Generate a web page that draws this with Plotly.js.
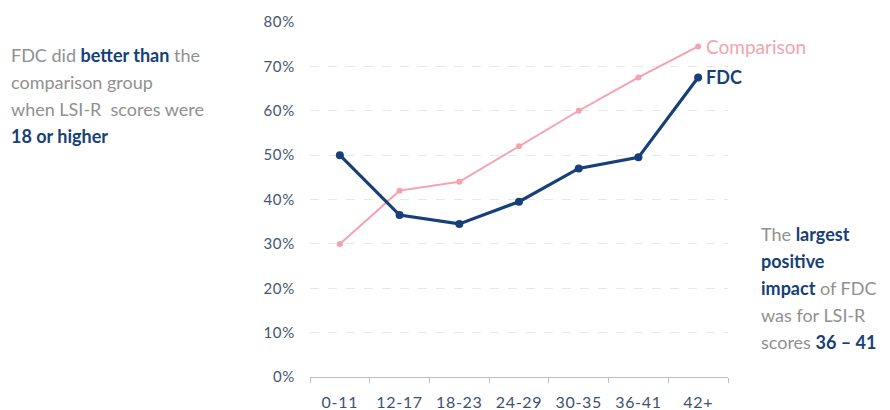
<!DOCTYPE html>
<html>
<head>
<meta charset="utf-8">
<script src="https://cdn.plot.ly/plotly-3.0.1.min.js"></script>
<style>
html,body{margin:0;padding:0;background:#fff;}
#chart{width:890px;height:410px;}
#chart .xtick text, #chart .ytick text{letter-spacing:0.7px;}
</style>
</head>
<body>
<div id="chart"></div>
<script>
const categories = ['0-11','12-17','18-23','24-29','30-35','36-41','42+'];
const fdc = [0.50, 0.365, 0.345, 0.395, 0.47, 0.495, 0.675];
const comparison = [0.30, 0.42, 0.44, 0.52, 0.60, 0.675, 0.745];
const yTicks = [0,0.1,0.2,0.3,0.4,0.5,0.6,0.7,0.8];

const NAVY = '#173f78';
const PINK = '#f4a3ae';
const GRAY = '#909090';
const FONT = 'Lato, "Open Sans", sans-serif';

const traces = [
  {x: categories, y: comparison, type: 'scatter', mode: 'lines+markers', name: 'Comparison',
   line: {color: PINK, width: 2}, marker: {color: PINK, size: 6}},
  {x: categories, y: fdc, type: 'scatter', mode: 'lines+markers', name: 'FDC',
   line: {color: NAVY, width: 3.2}, marker: {color: NAVY, size: 8}}
];

// pixel -> paper helpers (plot area 310..728 x, 22..377 y)
const L = 310, R = 728, T = 22, B = 377;
const px = v => (v - L) / (R - L);
const py = v => (B - v) / (B - T);

const leftLines = [
  'FDC did <b style="color:' + NAVY + '">better than</b> the',
  'comparison group',
  'when LSI-R  scores were',
  '<b style="color:' + NAVY + '">18 or higher</b>'
];
const rightLines = [
  'The <b style="color:' + NAVY + '">largest</b>',
  '<b style="color:' + NAVY + '">positive</b>',
  '<b style="color:' + NAVY + '">impact</b> of FDC',
  'was for LSI-R',
  'scores <b style="color:' + NAVY + '">36 – 41</b>'
];

const annotations = [];
leftLines.forEach((t, i) => annotations.push({
  xref: 'paper', yref: 'paper', x: px(9), y: py(55 + i * 27), xanchor: 'left', yanchor: 'middle',
  text: t, showarrow: false, font: {family: FONT, size: 18, color: GRAY}
}));
rightLines.forEach((t, i) => annotations.push({
  xref: 'paper', yref: 'paper', x: px(759), y: py(234 + i * 27), xanchor: 'left', yanchor: 'middle',
  text: t, showarrow: false, font: {family: FONT, size: 18, color: GRAY}
}));
annotations.push({
  x: categories[6], y: comparison[6], xanchor: 'left', yanchor: 'middle', xshift: 6,
  text: 'Comparison', showarrow: false, font: {family: FONT, size: 19, color: PINK}
});
annotations.push({
  x: categories[6], y: fdc[6], xanchor: 'left', yanchor: 'middle', xshift: 6,
  text: '<b>FDC</b>', showarrow: false, font: {family: FONT, size: 18, color: NAVY}
});

const layout = {
  width: 890, height: 410,
  margin: {l: L, r: 890 - R, t: T, b: 410 - B},
  paper_bgcolor: '#fff', plot_bgcolor: '#fff',
  showlegend: false,
  font: {family: FONT},
  xaxis: {
    type: 'category', range: [-0.5, 6.5], tickson: 'boundaries',
    ticks: 'outside', ticklen: 5, tickcolor: '#bdbdbd', showline: true, linecolor: '#bdbdbd', linewidth: 1,
    showgrid: false, zeroline: false, ticklabelstandoff: 11,
    tickfont: {family: FONT, size: 16, color: '#3d5172'}
  },
  yaxis: {
    range: [0, 0.8], tickvals: yTicks, tickformat: '.0%',
    showgrid: true, gridcolor: '#e8e8e8', griddash: 'dash', gridwidth: 1,
    zeroline: false, showline: false, ticks: '', ticklabelstandoff: 14,
    tickfont: {family: FONT, size: 15, color: '#46566c'}
  },
  annotations: annotations
};

Plotly.newPlot('chart', traces, layout, {displayModeBar: false, staticPlot: true});
</script>
</body>
</html>
